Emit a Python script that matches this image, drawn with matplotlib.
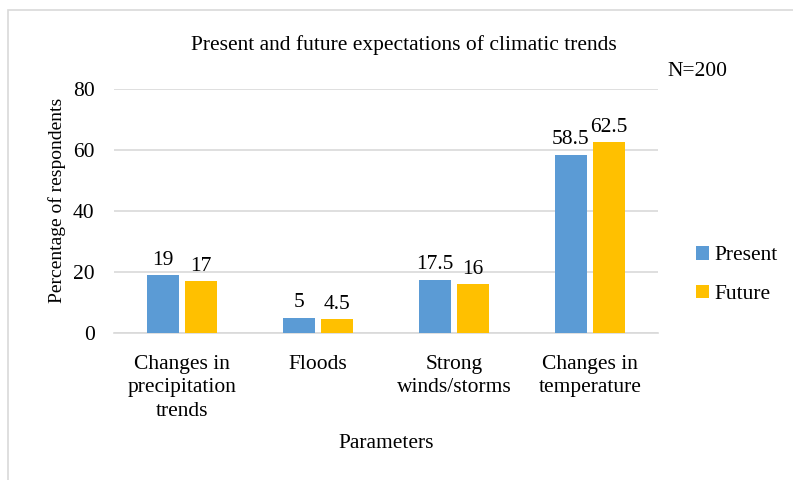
import matplotlib.pyplot as plt
import numpy as np
from matplotlib.patches import Rectangle

categories = ["Changes in\nprecipitation\ntrends", "Floods", "Strong\nwinds/storms", "Changes in\ntemperature"]
present = [19, 5, 17.5, 58.5]
future = [17, 4.5, 16, 62.5]
yticks = [0, 20, 40, 60, 80]

plt.rcParams['font.family'] = ['Liberation Serif', 'DejaVu Serif']
FS = 15.5

W, H = 793, 480
fig = plt.figure(figsize=(W / 100, H / 100), dpi=100)

# outer chart frame
fig.patches.append(Rectangle((8 / W, -0.05), 1.2, 1 - 10 / H + 0.05, transform=fig.transFigure,
                             fill=False, edgecolor='#d9d9d9', linewidth=1.2))

ax = fig.add_axes([114 / W, 1 - 333 / H, (658 - 114) / W, (333 - 89) / H])
x = np.arange(len(categories))
bw = 0.23
gap = 0.05
c_present = '#5b9bd5'
c_future = '#ffc000'
b1 = ax.bar(x - (bw + gap) / 2, present, bw, color=c_present, label='Present', zorder=3)
b2 = ax.bar(x + (bw + gap) / 2, future, bw, color=c_future, label='Future', zorder=3)

for bars, vals in ((b1, present), (b2, future)):
    for rect, v in zip(bars, vals):
        ax.text(rect.get_x() + rect.get_width() / 2, v + 1.8, f"{v:g}",
                ha='center', va='bottom', fontsize=FS)

ax.set_xlim(-0.5, 3.5)
ax.set_ylim(0, 80)
ax.set_yticks(yticks)
ax.set_xticks(x)
ax.set_xticklabels(categories, fontsize=FS, linespacing=1.3)
ax.tick_params(axis='y', labelsize=FS, length=0, pad=14)
ax.tick_params(axis='x', length=0, pad=16)
ax.grid(axis='y', color='#d9d9d9', linewidth=1.2, zorder=0)
for s in ('top', 'right', 'left'):
    ax.spines[s].set_visible(False)
ax.spines['bottom'].set_color('#d9d9d9')
ax.spines['bottom'].set_linewidth(1.2)

ax.set_ylabel('Percentage of respondents', fontsize=14)
ax.yaxis.set_label_coords((57 - 114) / (658 - 114), (333 - 200) / (333 - 89))
ax.set_xlabel('Parameters', fontsize=FS)
ax.xaxis.set_label_coords(0.5, (333 - 443) / (333 - 89))
ax.xaxis.label.set_va('center')
ax.yaxis.label.set_va('center')

fig.text(404 / W, 1 - 45 / H, 'Present and future expectations of climatic trends',
         ha='center', va='center', fontsize=FS)
fig.text(667 / W, 1 - 72 / H, 'N=200', ha='left', va='center', fontsize=FS)

ax.legend(loc='center left', bbox_to_anchor=(677 / W, 1 - 275 / H), bbox_transform=fig.transFigure,
          frameon=False, fontsize=FS, handlelength=0.6, handleheight=0.6, handletextpad=0.25,
          labelspacing=0.9)

fig.savefig('out.png', dpi=100)
